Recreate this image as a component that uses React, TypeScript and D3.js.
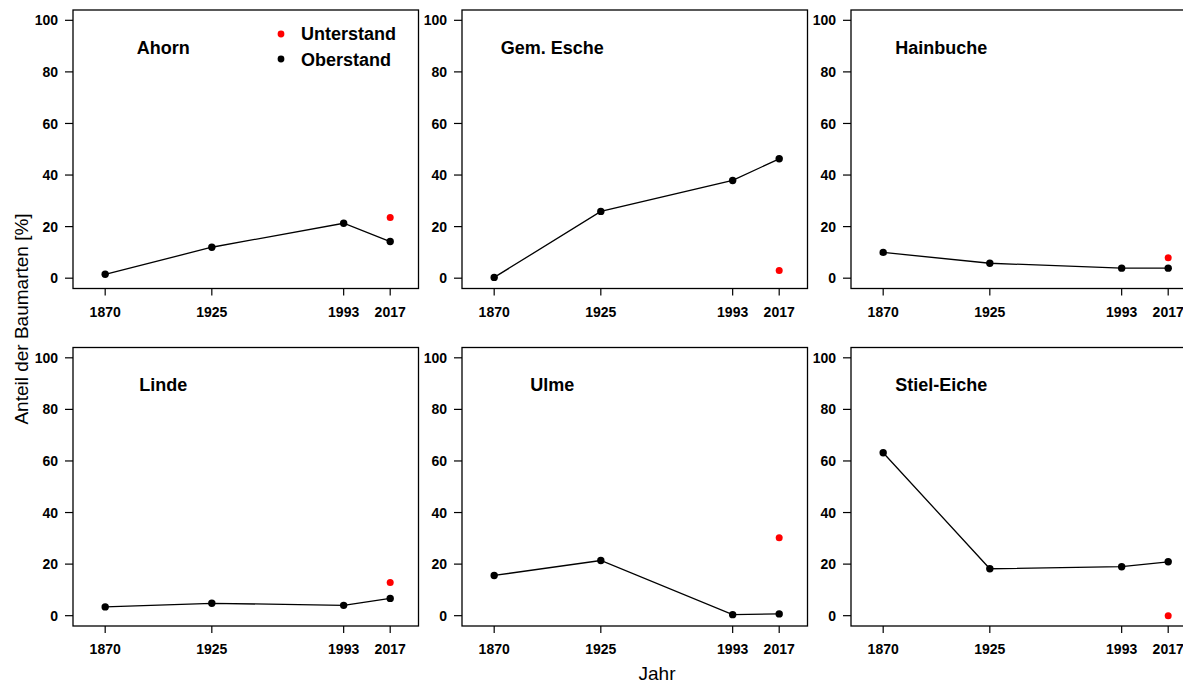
import React from "react";
import * as d3 from "d3";

const years = [1870, 1925, 1993, 2017];
const species = ["Ahorn", "Gem. Esche", "Hainbuche", "Linde", "Ulme", "Stiel-Eiche"];
const ahornOber = [1.5, 12.0, 21.3, 14.2];
const escheOber = [0.3, 25.9, 37.9, 46.3];
const hainbucheOber = [10.0, 5.8, 3.9, 3.9];
const lindeOber = [3.4, 4.8, 4.0, 6.7];
const ulmeOber = [15.6, 21.4, 0.4, 0.7];
const eicheOber = [63.2, 18.2, 19.0, 20.9];
const oberstand = [ahornOber, escheOber, hainbucheOber, lindeOber, ulmeOber, eicheOber];
const unterstand2017 = [23.5, 3.0, 7.9, 12.9, 30.2, 0.0];
const yTicks = [0, 20, 40, 60, 80, 100];
const legendLabels = ["Unterstand", "Oberstand"];

const W = 1183;
const H = 684;
const panelW = 345.5;
const panelH = 278.5;
const colLeft = [73, 462, 851];
const rowTop = [10, 347.5];
const FONT = "Liberation Sans, Arial, Helvetica, sans-serif";

const x = d3.scaleLinear().domain([1853.4, 2031.6]).range([0, panelW]);
const y = d3.scaleLinear().domain([-4, 104]).range([panelH, 0]);
const line = d3
  .line<number>()
  .x((_, i) => x(years[i]))
  .y((d) => y(d));

function Panel({ idx }: { idx: number }) {
  const col = idx % 3;
  const row = Math.floor(idx / 3);
  const tx = colLeft[col];
  const ty = rowTop[row];
  const vals = oberstand[idx];
  return (
    <g transform={`translate(${tx},${ty})`}>
      <rect x={0} y={0} width={panelW} height={panelH} fill="none" stroke="#000" strokeWidth={1.3} />
      {yTicks.map((t) => (
        <g key={t}>
          <line x1={-8} x2={0} y1={y(t)} y2={y(t)} stroke="#000" strokeWidth={1.2} />
          <text x={-15} y={y(t)} dy="0.36em" textAnchor="end" fontSize={14} fontWeight="bold" fontFamily={FONT}>
            {t}
          </text>
        </g>
      ))}
      {years.map((yr) => (
        <g key={yr}>
          <line x1={x(yr)} x2={x(yr)} y1={panelH} y2={panelH + 7} stroke="#000" strokeWidth={1.2} />
          <text x={x(yr)} y={panelH + 28} textAnchor="middle" fontSize={14} fontWeight="bold" fontFamily={FONT}>
            {yr}
          </text>
        </g>
      ))}
      <text x={x(1900)} y={y(89.5)} dy="0.36em" textAnchor="middle" fontSize={18} fontWeight="bold" fontFamily={FONT}>
        {species[idx]}
      </text>
      <path d={line(vals) || ""} fill="none" stroke="#000" strokeWidth={1.3} />
      {vals.map((v, i) => (
        <circle key={i} cx={x(years[i])} cy={y(v)} r={3.7} fill="#000" />
      ))}
      <circle cx={x(2017)} cy={y(unterstand2017[idx])} r={3.5} fill="#ff0000" />
      {idx === 0 && (
        <g>
          <circle cx={281 - tx} cy={34 - ty} r={3.4} fill="#ff0000" />
          <text x={301 - tx} y={34 - ty} dy="0.36em" fontSize={18} fontWeight="bold" fontFamily={FONT}>
            {legendLabels[0]}
          </text>
          <circle cx={281 - tx} cy={59 - ty} r={3.4} fill="#000" />
          <text x={301 - tx} y={60 - ty} dy="0.36em" fontSize={18} fontWeight="bold" fontFamily={FONT}>
            {legendLabels[1]}
          </text>
        </g>
      )}
    </g>
  );
}

export default function App() {
  return (
    <svg
      width={W}
      height={H}
      style={{ position: "fixed", left: 0, top: 0, background: "#fff" }}
    >
      <rect x={0} y={0} width={W} height={H} fill="#fff" />
      {species.map((_, i) => (
        <Panel key={i} idx={i} />
      ))}
      <text
        transform={`translate(21,319) rotate(-90)`}
        textAnchor="middle"
        dy="0.36em"
        fontSize={19}
        fontFamily={FONT}
      >
        Anteil der Baumarten [%]
      </text>
      <text x={657} y={673} dy="0.36em" textAnchor="middle" fontSize={19} fontFamily={FONT}>
        Jahr
      </text>
    </svg>
  );
}
